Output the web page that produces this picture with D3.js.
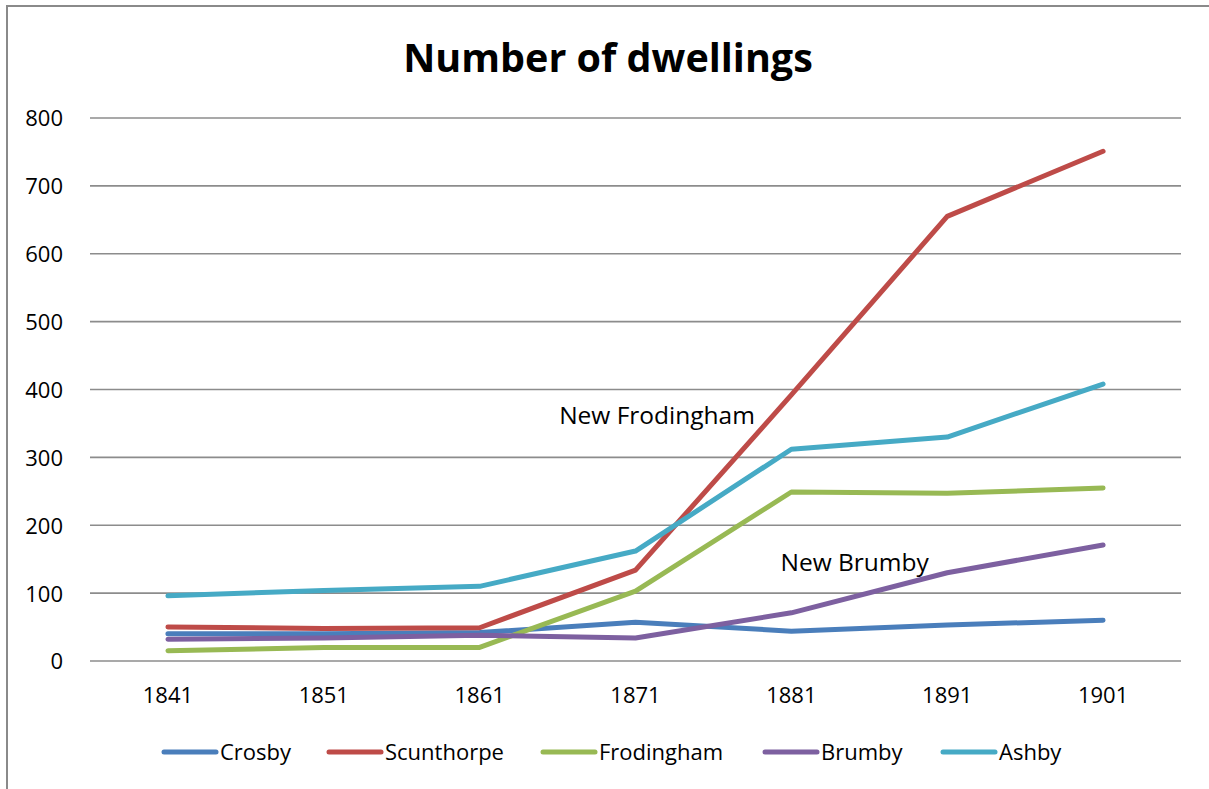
<!DOCTYPE html>
<html><head><meta charset="utf-8">
<script src="https://cdn.jsdelivr.net/npm/d3@7"></script>
<style>body{margin:0;background:#fff}svg{display:block}</style>
</head><body>
<svg id="c" width="1209" height="789"></svg>
<script>
const years = ["1841","1851","1861","1871","1881","1891","1901"];
const seriesNames = ["Crosby","Scunthorpe","Frodingham","Brumby","Ashby"];
const crosby     = [40, 40, 42, 57, 44, 53, 60];
const scunthorpe = [50, 48, 49, 134, 392, 655, 751];
const frodingham = [15, 20, 20, 103, 249, 247, 255];
const brumby     = [32, 34, 38, 34, 71, 130, 171];
const ashby      = [96, 104, 110, 162, 312, 330, 408];
const yTicks = [0,100,200,300,400,500,600,700,800];
const annotations = [{text:"New Frodingham", year:1866.1, value:349},{text:"New Brumby", year:1880.3, value:133}];
const colors = ["#4a7ebb","#be4b48","#98b954","#7d60a0","#46aac5"];
const values = [crosby, scunthorpe, frodingham, brumby, ashby];

(function(){
const svg = d3.select("#c");
const font = "'Open Sans', sans-serif";
svg.append("rect").attr("x",7).attr("y",6).attr("width",1300).attr("height",900)
  .attr("fill","#fff").attr("stroke","#8a8a8a").attr("stroke-width",2);

const pl=90, pr=1181, pt=118, pb=661;
const x = d3.scaleBand().domain(years).range([pl,pr]);
const xc = d3.scaleLinear().domain([1841,1901]).range([x("1841")+x.bandwidth()/2, x("1901")+x.bandwidth()/2]);
const y = d3.scaleLinear().domain([0,800]).range([pb,pt]);

svg.append("text").attr("x",608).attr("y",72).attr("text-anchor","middle")
  .attr("font-family",font).attr("font-weight","bold").attr("font-size",39.5).text("Number of dwellings");

const grid = svg.append("g");
grid.selectAll("line").data(yTicks).join("line")
  .attr("x1",pl).attr("x2",pr).attr("y1",d=>y(d)).attr("y2",d=>y(d))
  .attr("stroke","#8c8c8c").attr("stroke-width",1.6);

const yAxis = svg.append("g").attr("transform",`translate(${pl},0)`)
  .call(d3.axisLeft(y).tickValues(yTicks).tickSize(0).tickPadding(27));
yAxis.select(".domain").remove();
yAxis.selectAll("text").attr("font-family",font).attr("font-size",22).attr("fill","#000").attr("dy","0.36em");

const xAxis = svg.append("g").attr("transform",`translate(0,${pb})`)
  .call(d3.axisBottom(x).tickSize(0).tickPadding(26));
xAxis.select(".domain").remove();
xAxis.selectAll("text").attr("font-family",font).attr("font-size",22).attr("fill","#000");

const line = d3.line().x((d,i)=>x(years[i])+x.bandwidth()/2).y(d=>y(d));
values.forEach((vals,k)=>{
  svg.append("path").attr("d",line(vals)).attr("fill","none").attr("stroke",colors[k])
    .attr("stroke-width",5).attr("stroke-linecap","round").attr("stroke-linejoin","round");
});

annotations.forEach(a=>{
  svg.append("text").attr("x",xc(a.year)).attr("y",y(a.value))
    .attr("text-anchor","start").attr("font-family",font).attr("font-size",24.5).text(a.text);
});

const legendX = [162,327,541,763,941];
const lg = svg.append("g");
seriesNames.forEach((n,k)=>{
  lg.append("line").attr("x1",legendX[k]+2).attr("x2",legendX[k]+54).attr("y1",752).attr("y2",752)
    .attr("stroke",colors[k]).attr("stroke-width",5).attr("stroke-linecap","round");
  lg.append("text").attr("x",legendX[k]+58).attr("y",760).attr("font-family",font).attr("font-size",22).text(n);
});
})();
</script>
</body></html>
